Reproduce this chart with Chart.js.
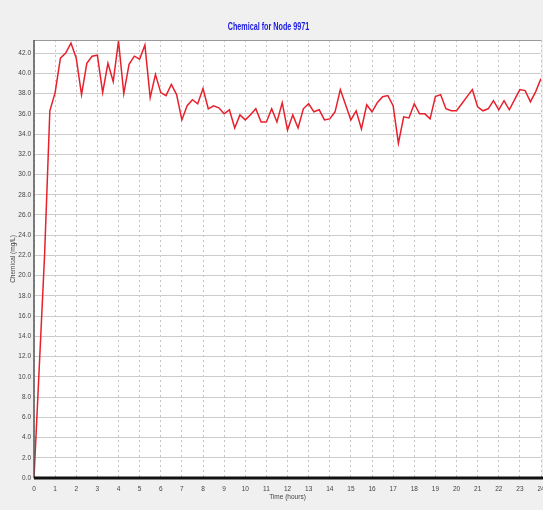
<!DOCTYPE html>
<html>
<head>
<meta charset="utf-8">
<script src="https://cdn.jsdelivr.net/npm/chart.js@4/dist/chart.umd.min.js"></script>
<style>
  html, body { margin: 0; padding: 0; background: #f0f0f0; }
  canvas { display: block; }
</style>
</head>
<body>
<canvas id="myChart" width="543" height="510"></canvas>
<script>
// time in hours (15 min steps)
const times = [
    0, 0.25, 0.5, 0.75, 1, 1.25, 1.5, 1.75, 2, 2.25, 2.5, 2.75,
    3, 3.25, 3.5, 3.75, 4, 4.25, 4.5, 4.75, 5, 5.25, 5.5, 5.75,
    6, 6.25, 6.5, 6.75, 7, 7.25, 7.5, 7.75, 8, 8.25, 8.5, 8.75,
    9, 9.25, 9.5, 9.75, 10, 10.25, 10.5, 10.75, 11, 11.25, 11.5, 11.75,
    12, 12.25, 12.5, 12.75, 13, 13.25, 13.5, 13.75, 14, 14.25, 14.5, 14.75,
    15, 15.25, 15.5, 15.75, 16, 16.25, 16.5, 16.75, 17, 17.25, 17.5, 17.75,
    18, 18.25, 18.5, 18.75, 19, 19.25, 19.5, 19.75, 20, 20.25, 20.5, 20.75,
    21, 21.25, 21.5, 21.75, 22, 22.25, 22.5, 22.75, 23, 23.25, 23.5, 23.75,
    24
];

// chemical concentration
const chemical = [
    0, 11, 22, 36.3, 38.1, 41.5, 42.0, 43.0, 41.5, 37.9, 41.0, 41.7,
    41.8, 38.1, 41.0, 39.2, 43.2, 38.0, 40.9, 41.7, 41.4, 42.8, 37.6, 39.9,
    38.1, 37.8, 38.9, 37.9, 35.4, 36.8, 37.4, 37.0, 38.5, 36.5, 36.8, 36.6,
    36.0, 36.4, 34.6, 35.9, 35.4, 35.9, 36.5, 35.2, 35.2, 36.5, 35.2, 37.1,
    34.4, 35.9, 34.6, 36.5, 37.0, 36.2, 36.4, 35.4, 35.5, 36.2, 38.4, 36.9,
    35.4, 36.3, 34.5, 36.9, 36.2, 37.1, 37.7, 37.8, 36.8, 33.1, 35.7, 35.6,
    37.0, 36.0, 36.0, 35.5, 37.7, 37.9, 36.5, 36.3, 36.3, 37.0, 37.7, 38.4,
    36.7, 36.3, 36.5, 37.3, 36.4, 37.3, 36.4, 37.4, 38.4, 38.3, 37.2, 38.2,
    39.5
];

const xTicks = [0,1,2,3,4,5,6,7,8,9,10,11,12,13,14,15,16,17,18,19,20,21,22,23,24];
const yTicks = [0,2,4,6,8,10,12,14,16,18,20,22,24,26,28,30,32,34,36,38,40,42];
const chartTitle = 'Chemical for Node 9971';

const fontFamily = "'Liberation Sans Narrow', 'Liberation Sans', Arial";
const tickFont = { family: fontFamily, size: 6.5 };

// white plot area, axis lines and the squeezed blue title
const plotFrame = {
    id: 'plotFrame',
    beforeDraw(chart) {
        const ctx = chart.ctx;
        const a = chart.chartArea;
        ctx.save();
        ctx.fillStyle = '#f0f0f0';
        ctx.fillRect(0, 0, chart.width, chart.height);
        ctx.fillStyle = '#ffffff';
        ctx.fillRect(a.left, a.top, a.right - a.left, a.bottom - a.top);
        ctx.restore();
    },
    afterDatasetsDraw(chart) {
        const ctx = chart.ctx;
        const a = chart.chartArea;
        ctx.save();
        ctx.strokeStyle = '#9a9a9a';
        ctx.lineWidth = 1;
        ctx.beginPath();
        ctx.moveTo(a.left, a.top + 0.5);
        ctx.lineTo(a.right, a.top + 0.5);
        ctx.stroke();
        ctx.strokeStyle = '#555555';
        ctx.lineWidth = 1.5;
        ctx.beginPath();
        ctx.moveTo(a.left, a.top);
        ctx.lineTo(a.left, a.bottom);
        ctx.stroke();
        ctx.strokeStyle = '#111111';
        ctx.lineWidth = 3;
        ctx.beginPath();
        ctx.moveTo(a.left, a.bottom);
        ctx.lineTo(chart.width, a.bottom);
        ctx.stroke();

        // title, squeezed sideways like the original
        ctx.translate(chart.width / 2 - 3, 27);
        ctx.scale(0.72, 1);
        ctx.font = 'bold 10px ' + fontFamily;
        ctx.fillStyle = '#1a1ae0';
        ctx.textAlign = 'center';
        ctx.textBaseline = 'middle';
        ctx.fillText(chartTitle, 0, 0);
        ctx.restore();
    }
};

const ctx = document.getElementById('myChart').getContext('2d');
const myChart = new Chart(ctx, {
    type: 'line',
    data: {
        datasets: [{
            label: 'Chemical',
            data: times.map((t, i) => ({x: t, y: chemical[i]})),
            borderColor: 'rgb(232, 32, 44)',
            borderWidth: 1.5,
            pointRadius: 0,
            tension: 0,
            fill: false
        }]
    },
    plugins: [plotFrame],
    options: {
        responsive: false,
        animation: false,
        layout: { padding: { left: 0, right: 2, top: 40, bottom: 0 } },
        plugins: {
            legend: { display: false },
            tooltip: { enabled: false },
            title: { display: false }
        },
        scales: {
            x: {
                type: 'linear',
                min: 0,
                max: 24,
                afterBuildTicks: (scale) => { scale.ticks = xTicks.map(v => ({value: v})); },
                afterFit: (scale) => { scale.height = 32; scale.paddingLeft = 0; scale.paddingRight = 0; },
                grid: { color: '#c4c4c4', lineWidth: 1, drawTicks: false },
                border: { display: false, dash: [2, 3] },
                ticks: {
                    font: tickFont,
                    color: '#444',
                    padding: 7,
                    maxRotation: 0,
                    autoSkip: false,
                    callback: (v) => String(v)
                },
                title: {
                    display: true,
                    text: 'Time (hours)',
                    color: '#444',
                    font: tickFont,
                    padding: { top: 0, bottom: 9 }
                }
            },
            y: {
                min: 0,
                max: 43.3,
                afterBuildTicks: (scale) => { scale.ticks = yTicks.map(v => ({value: v})); },
                afterFit: (scale) => { scale.width = 34; },
                grid: { color: '#cccccc', lineWidth: 1, drawTicks: false },
                border: { display: false },
                ticks: {
                    font: tickFont,
                    color: '#444',
                    padding: 3,
                    autoSkip: false,
                    callback: (v) => v.toFixed(1)
                },
                title: {
                    display: true,
                    text: 'Chemical (mg/L)',
                    color: '#444',
                    font: tickFont,
                    padding: { top: 9, bottom: 0 }
                }
            }
        }
    }
});
</script>
</body>
</html>
